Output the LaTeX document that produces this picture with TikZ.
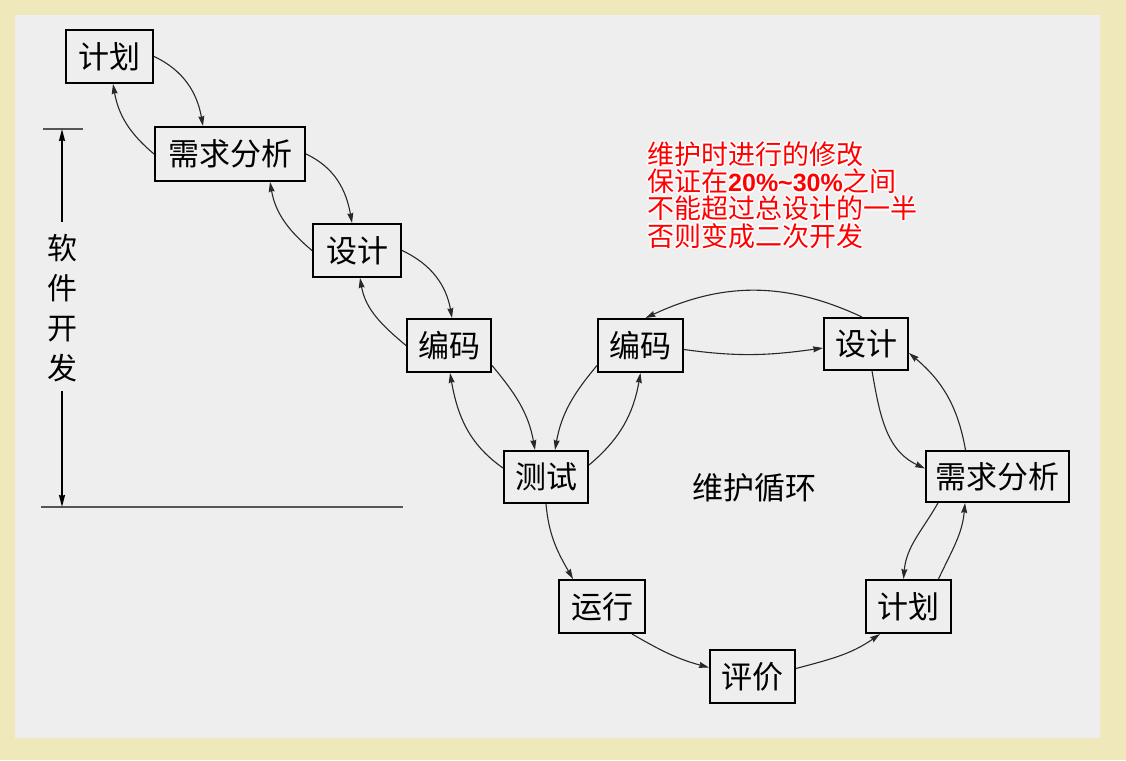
\documentclass[tikz,border=0pt]{standalone}
\usepackage{fontspec}
\newfontfamily\cjk{Noto Sans CJK SC}
\newfontfamily\latb{Liberation Sans}
\usetikzlibrary{arrows.meta}
\definecolor{beige}{RGB}{238,232,186}
\definecolor{panel}{RGB}{238,238,238}
\definecolor{linkcol}{RGB}{40,40,40}
\definecolor{basecol}{RGB}{85,85,85}
\tikzset{
  box/.style={draw=black, line width=2pt, fill=panel, inner sep=0pt,
    font=\cjk\fontsize{31}{31}\selectfont},
  link/.style={draw=linkcol, line width=1.1pt, -{Stealth[length=10pt,width=6pt,inset=1pt]}},
  dimarrow/.style={draw=black, line width=1.8pt, -{Stealth[length=12pt,width=6pt,inset=1pt]}},
  dimline/.style={draw=basecol, line width=2pt},
  memo/.style={anchor=base west, inner sep=0pt, font=\cjk\fontsize{27}{27}\selectfont},
  plain/.style={inner sep=0pt, font=\cjk\fontsize{31}{31}\selectfont},
}
\newcommand\halotext[3]{%
  \foreach \hx/\hy in {-1.6/0,1.6/0,0/-1.6,0/1.6,-1.1/-1.1,1.1/1.1,-1.1/1.1,1.1/-1.1}{
    \node[memo, text=white] at ([shift={(\hx,\hy)}]#2) {#3};}
  \node[memo, text=red] (#1) at (#2) {#3};}
\begin{document}
\begin{tikzpicture}[x=1pt,y=1pt]
\fill[beige] (0,0) rectangle (1126,760);
\fill[panel] (15,22) rectangle (1100,745);
\useasboundingbox (0,0) rectangle (1126,760);

% development waterfall
\node[box, minimum width=87pt, minimum height=53pt] (p1) at (109.5,703.5) {计划};
\node[box, minimum width=150pt, minimum height=54pt] (r1) at (230,606) {需求分析};
\node[box, minimum width=88pt, minimum height=53pt] (d1) at (357,509.5) {设计};
\node[box, minimum width=84pt, minimum height=53pt] (c1) at (449,414.5) {编码};
\node[box, minimum width=84pt, minimum height=52pt] (t) at (546,283) {测试};
% maintenance loop
\node[box, minimum width=85pt, minimum height=53pt] (c2) at (640.5,414.5) {编码};
\node[box, minimum width=84pt, minimum height=52pt] (d2) at (866,416) {设计};
\node[box, minimum width=143pt, minimum height=51pt] (r2) at (997.5,283.5) {需求分析};
\node[box, minimum width=85pt, minimum height=53pt] (p2) at (908.5,153.5) {计划};
\node[box, minimum width=85pt, minimum height=53pt] (eva) at (752.5,83.5) {评价};
\node[box, minimum width=86pt, minimum height=53pt] (run) at (602,153.5) {运行};

\node[plain] (loop) at (754.5,272) {维护循环};

% connectors
\draw[link] (p1.east) to[out=-25,in=100] ([xshift=-27pt]r1.north);
\draw[link] (r1.west) to[out=140,in=-80] ([xshift=3.5pt]p1.south);
\draw[link] (r1.east) to[out=-25,in=100] ([xshift=-5pt]d1.north);
\draw[link] (d1.west) to[out=140,in=-80] ([xshift=40pt]r1.south);
\draw[link] (d1.east) to[out=-25,in=100] ([xshift=3pt]c1.north);
\draw[link] (c1.west) to[out=140,in=-80] ([xshift=3pt]d1.south);
\draw[link] ([yshift=-20pt]c1.east) to[out=-50,in=100] ([xshift=-11pt]t.north);
\draw[link] ([yshift=9pt]t.west) to[out=145,in=-80] ([xshift=1pt]c1.south);
\draw[link] ([yshift=-20pt]c2.west) to[out=-130,in=80] ([xshift=9pt]t.north);
\draw[link] ([yshift=12pt]t.east) to[out=40,in=-100] (c2.south);
\draw[link] ([yshift=-4pt]c2.east) to[out=-8,in=188] ([yshift=-4pt]d2.west);
\draw[link] ([xshift=-4pt]d2.north) to[out=155,in=25] ([xshift=5pt]c2.north);
\draw[link] ([xshift=6pt]d2.south) to[out=-80,in=155] ([yshift=8pt]r2.west);
\draw[link] ([xshift=-32pt]r2.north) to[out=100,in=-40] ([yshift=-9pt]d2.east);
\draw[link] ([xshift=13pt]r2.south west) to[out=-120,in=85] ([xshift=-5pt]p2.north);
\draw[link] ([xshift=30pt]p2.north) to[out=65,in=-95] ([xshift=40pt]r2.south west);
\draw[link] ([yshift=8pt]eva.east) to[out=15,in=-145] ([xshift=15pt]p2.south west);
\draw[link] ([xshift=-14pt]run.south east) to[out=-30,in=165] ([yshift=9pt]eva.west);
\draw[link] (t.south) to[out=-85,in=120] ([xshift=-29pt]run.north);

% software development span
\node[plain, align=center, font=\cjk\fontsize{30}{40}\selectfont] (dev) at (62,452) {软\\件\\开\\发};
\coordinate (tickL) at (43,631);
\coordinate (tickR) at (83,631);
\coordinate (tickM) at (62,631);
\coordinate (upS) at (62,538);
\coordinate (dnS) at (62,369);
\coordinate (dnE) at (62,253);
\coordinate (baseL) at (41,253);
\coordinate (baseR) at (403,253);
\draw[line width=1.5pt, draw=basecol] (tickL) -- (tickR);
\draw[dimarrow] (upS) -- (tickM);
\draw[dimarrow] (dnS) -- (dnE);
\draw[dimline] (baseL) -- (baseR);

% red remark
\halotext{m1}{647,595.5}{维护时进行的修改}
\halotext{m2}{647,568.3}{保证在\smash{\latb\bfseries\fontsize{25}{25}\selectfont 20\%\textasciitilde30\%}之间}
\halotext{m3}{647,541.1}{不能超过总设计的一半}
\halotext{m4}{647,513.9}{否则变成二次开发}
\end{tikzpicture}
\end{document}
